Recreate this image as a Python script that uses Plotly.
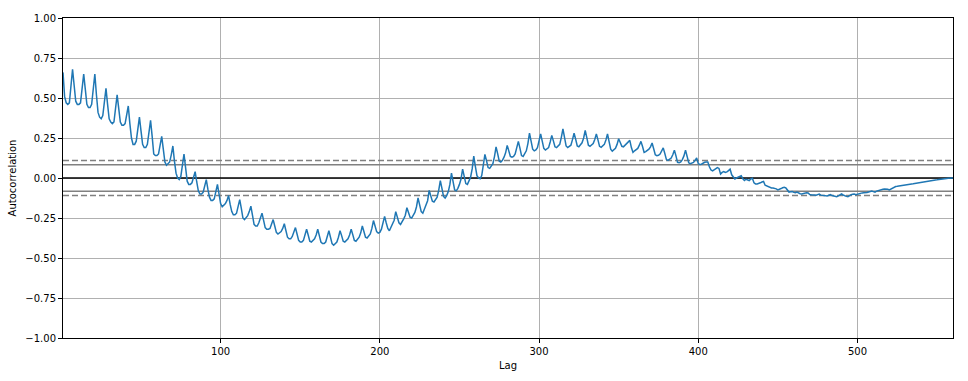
import numpy as np
import plotly.graph_objects as go

# Autocorrelation by lag, one row per 7 lags (lags 1..560)
acf_weeks = [
    [0.66, 0.51, 0.47, 0.46, 0.47, 0.58, 0.68],
    [0.58, 0.48, 0.46, 0.46, 0.47, 0.565, 0.65],
    [0.555, 0.46, 0.44, 0.44, 0.46, 0.555, 0.65],
    [0.52, 0.41, 0.38, 0.37, 0.39, 0.475, 0.56],
    [0.46, 0.37, 0.35, 0.34, 0.35, 0.44, 0.52],
    [0.435, 0.35, 0.33, 0.33, 0.34, 0.395, 0.45],
    [0.34, 0.25, 0.21, 0.21, 0.23, 0.30, 0.38],
    [0.295, 0.21, 0.19, 0.19, 0.21, 0.285, 0.36],
    [0.26, 0.15, 0.14, 0.14, 0.15, 0.205, 0.26],
    [0.18, 0.10, 0.08, 0.09, 0.10, 0.145, 0.20],
    [0.105, 0.03, 0.00, -0.01, 0.01, 0.08, 0.15],
    [0.065, -0.02, -0.04, -0.04, -0.03, 0.005, 0.04],
    [-0.025, -0.08, -0.10, -0.10, -0.09, -0.05, -0.01],
    [-0.07, -0.12, -0.14, -0.14, -0.13, -0.085, -0.04],
    [-0.10, -0.16, -0.18, -0.17, -0.16, -0.14, -0.11],
    [-0.165, -0.21, -0.23, -0.23, -0.22, -0.18, -0.135],
    [-0.19, -0.25, -0.26, -0.245, -0.235, -0.21, -0.176],
    [-0.232, -0.29, -0.30, -0.30, -0.28, -0.256, -0.22],
    [-0.265, -0.31, -0.32, -0.32, -0.315, -0.287, -0.26],
    [-0.30, -0.34, -0.35, -0.34, -0.335, -0.315, -0.286],
    [-0.328, -0.37, -0.38, -0.38, -0.365, -0.342, -0.31],
    [-0.35, -0.39, -0.40, -0.40, -0.39, -0.356, -0.32],
    [-0.356, -0.395, -0.40, -0.39, -0.38, -0.356, -0.32],
    [-0.36, -0.40, -0.41, -0.41, -0.40, -0.366, -0.33],
    [-0.37, -0.41, -0.42, -0.41, -0.40, -0.37, -0.33],
    [-0.36, -0.395, -0.40, -0.39, -0.38, -0.356, -0.32],
    [-0.354, -0.39, -0.395, -0.38, -0.37, -0.343, -0.30],
    [-0.334, -0.37, -0.375, -0.365, -0.35, -0.315, -0.266],
    [-0.30, -0.335, -0.345, -0.34, -0.32, -0.287, -0.24],
    [-0.28, -0.315, -0.33, -0.31, -0.29, -0.264, -0.21],
    [-0.246, -0.28, -0.29, -0.275, -0.255, -0.233, -0.186],
    [-0.215, -0.245, -0.25, -0.235, -0.215, -0.181, -0.125],
    [-0.168, -0.21, -0.22, -0.195, -0.175, -0.142, -0.078],
    [-0.11, -0.145, -0.15, -0.135, -0.12, -0.076, -0.016],
    [-0.065, -0.115, -0.125, -0.11, -0.085, -0.04, 0.03],
    [-0.02, -0.075, -0.08, -0.065, -0.04, -0.006, 0.055],
    [0.012, -0.035, -0.04, -0.02, 0.005, 0.057, 0.137],
    [0.073, 0.015, 0.0, -0.005, 0.015, 0.078, 0.147],
    [0.108, 0.065, 0.06, 0.075, 0.09, 0.134, 0.194],
    [0.152, 0.105, 0.10, 0.11, 0.13, 0.157, 0.204],
    [0.171, 0.135, 0.13, 0.135, 0.15, 0.184, 0.229],
    [0.187, 0.14, 0.135, 0.15, 0.17, 0.215, 0.28],
    [0.23, 0.18, 0.17, 0.175, 0.19, 0.228, 0.276],
    [0.23, 0.185, 0.175, 0.185, 0.19, 0.225, 0.266],
    [0.232, 0.195, 0.19, 0.20, 0.21, 0.254, 0.307],
    [0.254, 0.20, 0.19, 0.195, 0.205, 0.24, 0.28],
    [0.242, 0.20, 0.195, 0.205, 0.22, 0.25, 0.297],
    [0.252, 0.205, 0.198, 0.205, 0.215, 0.241, 0.276],
    [0.238, 0.198, 0.192, 0.20, 0.21, 0.238, 0.276],
    [0.227, 0.18, 0.168, 0.175, 0.185, 0.21, 0.245],
    [0.222, 0.198, 0.195, 0.205, 0.21, 0.222, 0.235],
    [0.19, 0.16, 0.17, 0.178, 0.185, 0.205, 0.229],
    [0.197, 0.16, 0.165, 0.172, 0.18, 0.195, 0.219],
    [0.183, 0.145, 0.14, 0.142, 0.15, 0.166, 0.188],
    [0.153, 0.115, 0.11, 0.115, 0.125, 0.145, 0.174],
    [0.138, 0.098, 0.095, 0.10, 0.115, 0.138, 0.174],
    [0.136, 0.095, 0.09, 0.092, 0.097, 0.11, 0.125],
    [0.09, 0.085, 0.086, 0.094, 0.098, 0.10, 0.10],
    [0.07, 0.05, 0.045, 0.052, 0.063, 0.065, 0.06],
    [0.025, 0.035, 0.04, 0.035, 0.038, 0.046, 0.055],
    [0.02, 0.004, -0.006, 0.0, 0.004, 0.01, 0.014],
    [-0.005, -0.016, -0.008, -0.012, -0.016, -0.006, -0.002],
    [-0.03, -0.037, -0.037, -0.035, -0.03, -0.025, -0.022],
    [-0.045, -0.05, -0.057, -0.058, -0.062, -0.063, -0.065],
    [-0.068, -0.074, -0.072, -0.066, -0.061, -0.058, -0.062],
    [-0.075, -0.088, -0.086, -0.084, -0.09, -0.092, -0.088],
    [-0.095, -0.098, -0.10, -0.097, -0.092, -0.092, -0.094],
    [-0.104, -0.105, -0.104, -0.106, -0.108, -0.104, -0.10],
    [-0.107, -0.108, -0.108, -0.11, -0.112, -0.108, -0.104],
    [-0.11, -0.113, -0.116, -0.117, -0.112, -0.107, -0.10],
    [-0.106, -0.112, -0.115, -0.117, -0.11, -0.104, -0.102],
    [-0.10, -0.104, -0.10, -0.098, -0.094, -0.093, -0.092],
    [-0.093, -0.09, -0.087, -0.084, -0.082, -0.085, -0.088],
    [-0.082, -0.078, -0.074, -0.072, -0.07, -0.069, -0.068],
    [-0.07, -0.074, -0.068, -0.061, -0.057, -0.053, -0.052],
    [-0.05, -0.049, -0.047, -0.045, -0.043, -0.039, -0.037],
    [-0.037, -0.037, -0.036, -0.034, -0.033, -0.031, -0.029],
    [-0.027, -0.026, -0.024, -0.023, -0.021, -0.018, -0.016],
    [-0.015, -0.014, -0.012, -0.011, -0.009, -0.007, -0.006],
    [-0.005, -0.004, -0.003, -0.002, -0.002, -0.001, 0.0],
]

acf_values = [v for row in acf_weeks for v in row]
n_obs = len(acf_values)
lags = list(range(1, n_obs + 1))

z95 = 1.959963984540054
z99 = 2.5758293035489
band95 = z95 / np.sqrt(n_obs)
band99 = z99 / np.sqrt(n_obs)

x_ticks = [100, 200, 300, 400, 500]
y_ticks = [-1.0, -0.75, -0.5, -0.25, 0.0, 0.25, 0.5, 0.75, 1.0]

fig = go.Figure()

def hline(y, color, dash):
    fig.add_trace(go.Scatter(x=[1, n_obs], y=[y, y], mode="lines",
                             line=dict(color=color, width=1.5, dash=dash),
                             hoverinfo="skip", showlegend=False))

hline(band99, "grey", "6px,3px")
hline(band95, "grey", "solid")
hline(0.0, "black", "solid")
hline(-band95, "grey", "solid")
hline(-band99, "grey", "6px,3px")

fig.add_trace(go.Scatter(x=lags, y=acf_values, mode="lines",
                         line=dict(color="#1f77b4", width=1.5),
                         showlegend=False))

axis_common = dict(
    showline=True, mirror=True, linecolor="black", linewidth=1,
    ticks="outside", ticklen=4, tickwidth=1, tickcolor="black",
    showgrid=True, gridcolor="#b0b0b0", gridwidth=0.8,
    zeroline=False,
    tickfont=dict(family="DejaVu Sans", size=10, color="black"),
)

fig.update_layout(
    width=968, height=381,
    margin=dict(l=60, r=15, t=16, b=39),
    paper_bgcolor="white", plot_bgcolor="white",
    font=dict(family="DejaVu Sans", size=10, color="black"),
    xaxis=dict(range=[1, n_obs], tickvals=x_ticks,
               title=dict(text="Lag", font=dict(size=10), standoff=5),
               **axis_common),
    yaxis=dict(range=[-1, 1], tickvals=y_ticks, tickformat=".2f",
               title=dict(text="Autocorrelation", font=dict(size=10), standoff=6),
               **axis_common),
)

fig.write_html("out.html")
